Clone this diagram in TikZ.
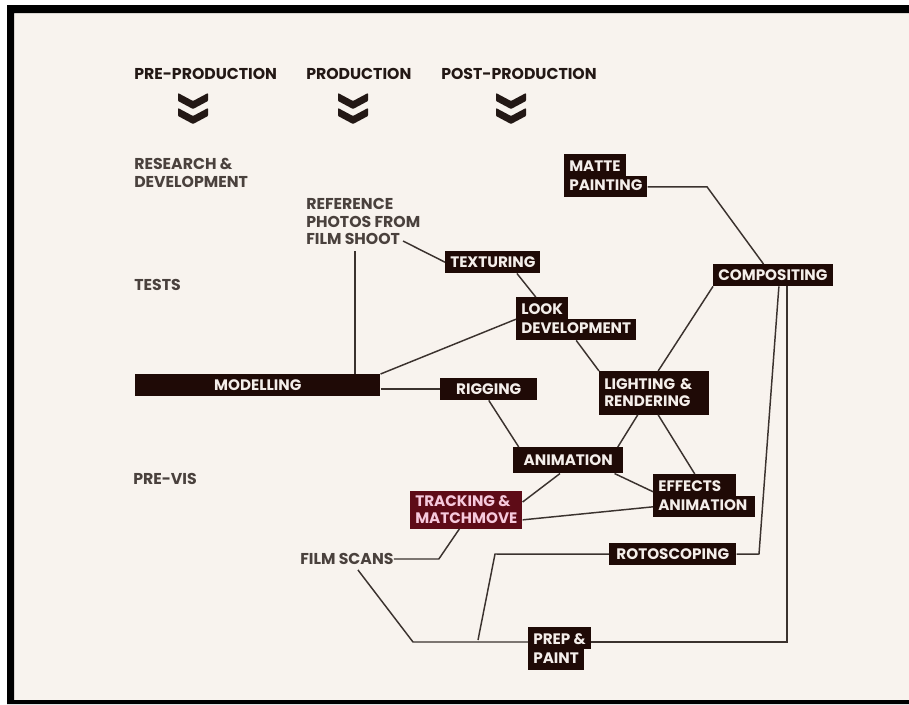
\documentclass[tikz,border=0pt]{standalone}
\usepackage{fontspec}
\setmainfont{Poppins}
\usetikzlibrary{positioning,calc}

\definecolor{cream}{HTML}{F8F3EE}
\definecolor{boxc}{HTML}{1F0A06}
\definecolor{boxtext}{HTML}{F4EEEA}
\definecolor{trackc}{HTML}{5E0B17}
\definecolor{tracktext}{HTML}{F6C9DC}
\definecolor{headc}{HTML}{231815}
\definecolor{labc}{HTML}{4A413D}
\definecolor{linec}{HTML}{3B322E}

\newcommand{\labfont}{\bfseries\fontsize{11.4}{12.75}\selectfont}
\newcommand{\headfont}{\bfseries\fontsize{11.8}{13.2}\selectfont}

\begin{document}
\begin{tikzpicture}[x=0.75pt, y=-0.75pt,
    head/.style={font=\headfont, text=headc, inner sep=0pt, anchor=west},
    rowlab/.style={font=\headfont, text=labc, inner sep=0pt, align=left, anchor=north west},
    stage/.style={fill=boxc, text=boxtext, font=\labfont, inner xsep=3.75pt, inner ysep=0pt,
        text height=12.2pt, text depth=4.2pt, anchor=north west},
    toprow/.style={stage, text height=13.25pt, text depth=3pt},
    botrow/.style={stage, text height=10.25pt, text depth=5.25pt},
    stagetwo/.style={fill=boxc, text=boxtext, font=\labfont, align=left,
        inner xsep=3.75pt, inner ysep=5.75pt, anchor=north west},
    link/.style={draw=linec, line width=1.1pt},
    chev/.style={fill=headc, rounded corners=0.6pt}
]
    \useasboundingbox (0,0) rectangle (909,704);

    % frame
    \fill[white] (0,0) rectangle (909,704);
    \fill[cream] (14,13) rectangle (909,700);
    \fill[black] (7,704) -- (7,5) -- (909,5) -- (909,13) -- (14,13) -- (14,700) -- (909,700) -- (909,704) -- cycle;

    % Stages
    \node[head] (pre) at (134,73.5) {PRE-PRODUCTION};
    \node[head] (prod) at (306,73.5) {PRODUCTION};
    \node[head] (post) at (441,73.5) {POST-PRODUCTION};

    \foreach \cx in {193,353,511} {
        \foreach \ty in {93,108} {
            \fill[chev] (\cx-15,\ty) -- (\cx,\ty+8) -- (\cx+15,\ty) -- (\cx+15,\ty+8) -- (\cx,\ty+16) -- (\cx-15,\ty+8) -- cycle;
        }
    }

    % Rows
    \node[rowlab] (research) at (134,158) {RESEARCH \&\\DEVELOPMENT};
    \node[rowlab, anchor=west] (tests) at (134,285) {TESTS};
    \node[rowlab, anchor=west] (previs) at (133,479) {PRE-VIS};
    \node[rowlab] (refphotos) at (306,198) {REFERENCE\\PHOTOS FROM\\FILM SHOOT};
    \node[rowlab, anchor=west] (filmscans) at (300,559) {FILM SCANS};

    % Departments
    \node[toprow] (matte) at (564,154) {MATTE};
    \node[botrow, below right=0pt of matte.south west] (painting) {PAINTING};
    \node[stage] (compositing) at (713,264) {COMPOSITING};
    \node[stage] (texturing) at (445,251) {TEXTURING};
    \node[toprow] (look) at (516,297) {LOOK};
    \node[botrow, below right=0pt of look.south west] (lookdev) {DEVELOPMENT};
    \node[stage, minimum width=183.75pt] (modelling) at (135,374) {MODELLING};
    \node[stage, minimum width=72.75pt] (rigging) at (440,378) {RIGGING};
    \node[stagetwo, text width=75pt] (lighting) at (599,371) {LIGHTING \&\\RENDERING};
    \node[stage, minimum width=82.5pt, minimum height=19.5pt] (animation) at (513,447) {ANIMATION};
    \node[stagetwo, fill=trackc, text=tracktext, inner ysep=3.5pt] (tracking) at (410,491) {TRACKING \&\\MATCHMOVE};
    \node[toprow, text width=54.75pt, align=left] (effects) at (653,474) {EFFECTS};
    \node[botrow, text width=69pt, align=left, below right=0pt of effects.south west] (effectsb) {ANIMATION};
    \node[stage, minimum width=95.25pt] (rotoscoping) at (609,543) {ROTOSCOPING};
    \node[toprow] (prep) at (528,627) {PREP \&};
    \node[botrow, below right=0pt of prep.south west] (paint) {PAINT};

    \coordinate (shootend) at (403,241);
    \coordinate (refdrop) at (355,251);
    \coordinate (mattebend) at (707,187);
    \coordinate (scanbend) at (413,642);
    \coordinate (rotobend) at (495,554);
    \coordinate (rotofoot) at (478,640);
    \coordinate (prepbend) at (787,642);
    \coordinate (compbend) at (759,554);

    % Pipeline links
    \draw[link] (shootend) -- (texturing.west);
    \draw[link] (refdrop) -- (refdrop |- modelling.north);
    \draw[link] (texturing.-25) -- (look.120);
    \draw[link] (modelling.north east) -- (lookdev.north west);
    \draw[link] (modelling.east |- rigging.west) -- (rigging.west);
    \draw[link] (rigging.south) -- (animation.165);
    \draw[link] (lookdev.south) -- (lighting.north west);
    \draw[link] (lighting.80) -- (compositing.south west);
    \draw[link] (painting.east) -- (painting.east -| mattebend) -- (compositing.130);
    \draw[link] (lighting.233) -- (animation.15);
    \draw[link] (lighting.-80) -- (effects.north);
    \draw[link] (animation.-122) -- (tracking.8);
    \draw[link] (animation.-16) -- (effects.-171);
    \draw[link] (tracking.-10) -- (effectsb.west);

    % Plates
    \draw[link] (filmscans.east) -- ++(45,0) -- (tracking.-110);
    \draw[link] ($(filmscans.south)+(11,5)$) -- (scanbend) -- (scanbend -| prep.west);
    \draw[link] (rotoscoping.west) -- (rotobend) -- (rotofoot);
    \draw[link] (prep.east |- prepbend) -- (prepbend) -- (prepbend |- compositing.south);
    \draw[link] ($(compositing.south)+(6,0)$) -- (compbend) -- (rotoscoping.east);

\end{tikzpicture}
\end{document}
